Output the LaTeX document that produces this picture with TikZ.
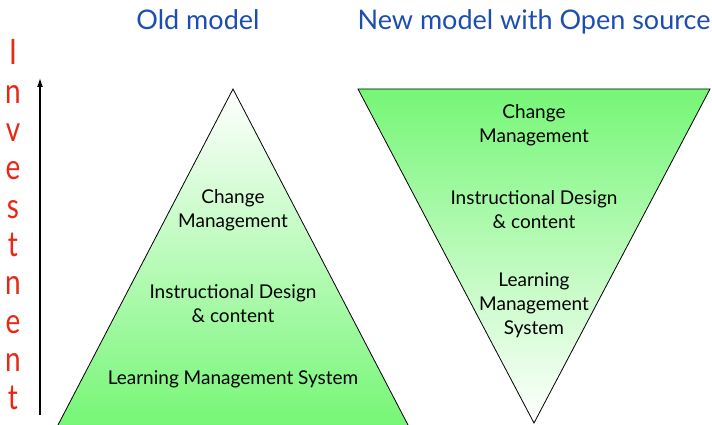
\documentclass[tikz,border=0pt]{standalone}
\usepackage{fontspec}
\setmainfont{Lato}
\usetikzlibrary{arrows.meta}
\definecolor{titleblue}{RGB}{28,78,178}
\definecolor{invred}{RGB}{230,40,20}
\definecolor{pgreen}{RGB}{118,246,118}
\tikzset{
  title/.style={text=titleblue, font=\fontsize{27}{30}\selectfont, anchor=base},
  letter/.style={text=invred, font=\fontsize{28}{30}\selectfont, anchor=base, inner sep=0pt},
  layer/.style={align=center, font=\fontsize{19}{24}\selectfont, inner sep=0pt},
}
\begin{document}
\begin{tikzpicture}[x=1pt,y=-1pt]
\useasboundingbox (0,0) rectangle (712,425);

\node[title] (old) at (198,30) {Old model};
\node[title] (new) at (534,30) {New model with Open source};

\foreach \l [count=\i] in {I,n,v,e,s,t,n,e,n,t}
  \node[letter] (l\i) at (13,{65+38.3*(\i-1)}) {\scalebox{1}[1.25]{\l}};

\coordinate (arrowfoot) at (40,415);
\coordinate (arrowtip) at (40,78);
\path[draw,line width=1.3pt,-{Latex[length=9pt,width=6pt]}] (arrowfoot) -- (arrowtip);

% old model
\coordinate (oldtop) at (233,89);
\coordinate (oldleft) at (58,425);
\coordinate (oldright) at (408,425);
\path[top color=white,bottom color=pgreen] (oldtop) -- (oldleft) -- (oldright) -- cycle;
\path[draw,thick] (oldleft) -- (oldtop) -- (oldright);
\node[layer] (oldcm) at (233,210) {Change\\Management};
\node[layer] (oldid) at (233,304) {Instructional Design\\\& content};
\node[layer] (oldlms) at (233,379) {Learning Management System};

% new model
\path[draw,thick,top color=pgreen,bottom color=white]
  (358,89) -- (710,89) -- (534,423) -- cycle;
\node[layer] (newcm) at (534,125) {Change\\Management};
\node[layer] (newid) at (534,210) {Instructional Design\\\& content};
\node[layer] (newlms) at (534,305) {Learning\\Management\\System};
\end{tikzpicture}
\end{document}
